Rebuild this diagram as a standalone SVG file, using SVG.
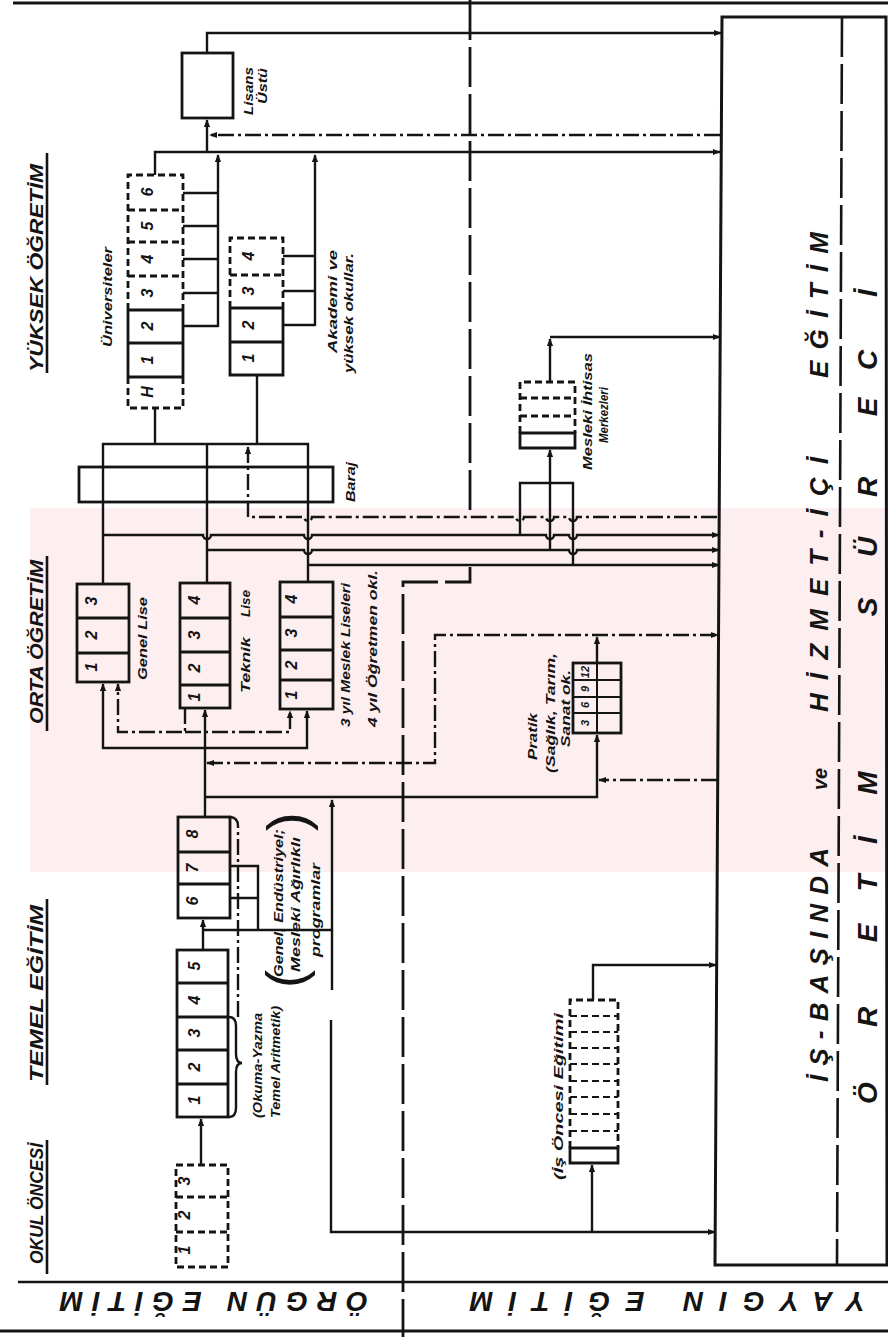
<svg xmlns="http://www.w3.org/2000/svg" width="888" height="1337" viewBox="0 0 888 1337">
<style>
.ln{fill:none;stroke:#141414;stroke-width:2.4}
.bx{fill:none;stroke:#141414;stroke-width:2.8}
.ds{stroke-dasharray:7 4}
.dd{stroke-dasharray:16 4 3 4}
.dv{fill:none;stroke:#141414;stroke-width:2.8;stroke-dasharray:40 7}
.t{font-family:"Liberation Sans",Arial,sans-serif;font-weight:bold;font-style:italic;fill:#141414}
.n{font-size:16px;text-anchor:middle}
.s{font-size:13px}
.h{font-size:18px}
.b{font-size:26px}
.p{font-family:"Liberation Sans",Arial,sans-serif;font-weight:normal;fill:#141414}
</style>
<defs>
<marker id="a" viewBox="0 0 10 10" refX="9" refY="5" markerWidth="8" markerHeight="8" markerUnits="userSpaceOnUse" orient="auto-start-reverse"><path d="M0,1 L10,5 L0,9 Z" fill="#141414"/></marker>
</defs>
<rect width="888" height="1337" fill="#ffffff"/>

<g id="watermark">
<rect x="30" y="508" width="858" height="364" fill="#fdeef0"/>
</g>

<g id="frame">
<path class="ln" style="stroke-width:3" d="M13,3 H888"/>
<path class="ln" style="stroke-width:2.6" d="M18,1282 H888"/>
<path class="ln" style="stroke-width:3" d="M0,1331 H888"/>
<path class="dv" d="M470,0 V513"/>
<path class="dv" d="M470,567 V582 H403 V1337"/>
</g>

<g id="section-labels">
<text class="t h" transform="translate(43,372) rotate(-90)" textLength="208" lengthAdjust="spacingAndGlyphs">YÜKSEK ÖĞRETİM</text>
<text class="t h" transform="translate(43,724) rotate(-90)" textLength="164" lengthAdjust="spacingAndGlyphs">ORTA ÖĞRETİM</text>
<text class="t h" transform="translate(43,1082) rotate(-90)" textLength="177" lengthAdjust="spacingAndGlyphs">TEMEL EĞİTİM</text>
<text class="t h" transform="translate(43,1264) rotate(-90)" textLength="121" lengthAdjust="spacingAndGlyphs">OKUL ÖNCESİ</text>
<path class="ln" style="stroke-width:2.6" d="M47,153 V373 M47,556 V731 M47,899 V1085 M47,1140 V1274"/>
<text class="t" style="font-size:28px" transform="translate(368,1292) rotate(180)" textLength="308" lengthAdjust="spacing">ÖRGÜN EĞİTİM</text>
<text class="t" style="font-size:28px" transform="translate(865,1292) rotate(180)" textLength="395" lengthAdjust="spacing">YAYGIN EĞİTİM</text>
</g>

<g id="lisans-ustu">
<rect class="bx" x="182" y="53" width="51" height="65"/>
<text class="t s" transform="translate(253,115) rotate(-90)" textLength="48" lengthAdjust="spacingAndGlyphs">Lisans</text>
<text class="t s" transform="translate(267,104) rotate(-90)" textLength="36" lengthAdjust="spacingAndGlyphs">Üstü</text>
</g>

<g id="universiteler">
<path class="bx ds" d="M128,310 V175 H183 V310"/>
<path class="bx" d="M128,310 V377 M183,310 V377"/>
<path class="bx ds" d="M128,377 V408 H183 V377"/>
<path class="bx ds" d="M128,210 H183 M128,242 H183 M128,276 H183"/>
<path class="bx" d="M128,310 H183 M128,343 H183 M128,377 H183"/>
<text class="t n" transform="translate(153,192) rotate(-90)">6</text>
<text class="t n" transform="translate(153,226) rotate(-90)">5</text>
<text class="t n" transform="translate(153,259) rotate(-90)">4</text>
<text class="t n" transform="translate(153,293) rotate(-90)">3</text>
<text class="t n" transform="translate(153,326) rotate(-90)">2</text>
<text class="t n" transform="translate(153,360) rotate(-90)">1</text>
<text class="t n" transform="translate(153,392) rotate(-90)">H</text>
<text class="t s" transform="translate(112,347) rotate(-90)" textLength="100" lengthAdjust="spacingAndGlyphs">Üniversiteler</text>
</g>

<g id="akademi">
<path class="bx ds" d="M230,308 V238 H283 V308 M230,275 H283"/>
<path class="bx" d="M230,308 V375 H283 V308 M230,308 H283 M230,342 H283"/>
<text class="t n" transform="translate(254,256) rotate(-90)">4</text>
<text class="t n" transform="translate(254,291) rotate(-90)">3</text>
<text class="t n" transform="translate(254,325) rotate(-90)">2</text>
<text class="t n" transform="translate(254,358) rotate(-90)">1</text>
<text class="t s" transform="translate(337,353) rotate(-90)" textLength="103" lengthAdjust="spacingAndGlyphs">Akademi ve</text>
<text class="t s" transform="translate(353,373) rotate(-90)" textLength="120" lengthAdjust="spacingAndGlyphs">yüksek okullar.</text>
</g>

<g id="baraj">
<rect class="bx" x="79" y="467" width="254" height="35"/>
<text class="t s" transform="translate(355,502) rotate(-90)" textLength="40" lengthAdjust="spacingAndGlyphs">Baraj</text>
</g>

<g id="genel-lise">
<rect class="bx" x="77" y="584" width="52" height="98"/>
<path class="bx" d="M77,618 H129 M77,653 H129"/>
<text class="t n" transform="translate(97,601) rotate(-90)">3</text>
<text class="t n" transform="translate(97,635) rotate(-90)">2</text>
<text class="t n" transform="translate(97,667) rotate(-90)">1</text>
<text class="t s" transform="translate(147,680) rotate(-90)" textLength="83" lengthAdjust="spacingAndGlyphs">Genel Lise</text>
</g>

<g id="teknik-lise">
<rect class="bx" x="180" y="583" width="50" height="125"/>
<path class="bx" d="M180,618 H230 M180,652 H230 M180,685 H230"/>
<text class="t n" transform="translate(200,600) rotate(-90)">4</text>
<text class="t n" transform="translate(200,635) rotate(-90)">3</text>
<text class="t n" transform="translate(200,668) rotate(-90)">2</text>
<text class="t n" transform="translate(200,697) rotate(-90)">1</text>
<text class="t s" transform="translate(250,693) rotate(-90)" textLength="56" lengthAdjust="spacingAndGlyphs">Teknik</text>
<text class="t s" transform="translate(250,617) rotate(-90)" textLength="27" lengthAdjust="spacingAndGlyphs">Lise</text>
</g>

<g id="meslek-lise">
<rect class="bx" x="280" y="582" width="53" height="127"/>
<path class="bx" d="M280,617 H333 M280,650 H333 M280,680 H333"/>
<text class="t n" transform="translate(297,599) rotate(-90)">4</text>
<text class="t n" transform="translate(297,633) rotate(-90)">3</text>
<text class="t n" transform="translate(297,665) rotate(-90)">2</text>
<text class="t n" transform="translate(297,695) rotate(-90)">1</text>
<text class="t s" transform="translate(350,727) rotate(-90)" textLength="144" lengthAdjust="spacingAndGlyphs">3 yıl Meslek Liseleri</text>
<text class="t s" transform="translate(377,727) rotate(-90)" textLength="157" lengthAdjust="spacingAndGlyphs">4 yıl Öğretmen okl.</text>
</g>

<g id="mesleki-ihtisas">
<path class="bx ds" d="M520,433 V382 H575 V433 M520,398 H575 M520,416 H575"/>
<path class="bx" d="M520,433 H575 V448 H520 Z"/>
<text class="t s" transform="translate(592,470) rotate(-90)" textLength="117" lengthAdjust="spacingAndGlyphs">Mesleki İhtisas</text>
<text class="t s" transform="translate(608,443) rotate(-90)" textLength="56" lengthAdjust="spacingAndGlyphs">Merkezleri</text>
</g>

<g id="pratik">
<rect class="bx" x="573" y="663" width="48" height="70"/>
<path class="bx" style="stroke-width:2" d="M597,663 V733 M573,680 H621 M573,697 H621 M573,713 H621"/>
<text class="t" style="font-size:11px;text-anchor:middle" transform="translate(589,672) rotate(-90)">12</text>
<text class="t" style="font-size:11px;text-anchor:middle" transform="translate(589,689) rotate(-90)">9</text>
<text class="t" style="font-size:11px;text-anchor:middle" transform="translate(589,705) rotate(-90)">6</text>
<text class="t" style="font-size:11px;text-anchor:middle" transform="translate(589,723) rotate(-90)">3</text>
<text class="t s" transform="translate(537,760) rotate(-90)" textLength="47" lengthAdjust="spacingAndGlyphs">Pratik</text>
<text class="t s" transform="translate(555,773) rotate(-90)" textLength="120" lengthAdjust="spacingAndGlyphs">(Sağlık, Tarım,</text>
<text class="t s" transform="translate(570,747) rotate(-90)" textLength="77" lengthAdjust="spacingAndGlyphs">Sanat ok.</text>
</g>

<g id="temel-6-8">
<rect class="bx" x="178" y="817" width="52" height="101"/>
<path class="bx" d="M178,852 H230 M178,884 H230"/>
<text class="t n" transform="translate(198,834) rotate(-90)">8</text>
<text class="t n" transform="translate(198,868) rotate(-90)">7</text>
<text class="t n" transform="translate(198,901) rotate(-90)">6</text>
<text class="t s" transform="translate(283,977) rotate(-90)" textLength="148" lengthAdjust="spacingAndGlyphs">Genel, Endüstriyel;</text>
<text class="t s" transform="translate(300,972) rotate(-90)" textLength="135" lengthAdjust="spacingAndGlyphs">Mesleki Ağırlıklı</text>
<text class="t s" transform="translate(320,957) rotate(-90)" textLength="94" lengthAdjust="spacingAndGlyphs">programlar</text>
<text class="p" style="font-size:56px" transform="translate(306,831) rotate(-90)">)</text>
<text class="p" style="font-size:54px" transform="translate(304,988) rotate(-90)">(</text>
</g>

<g id="temel-1-5">
<rect class="bx" x="177" y="950" width="51" height="167"/>
<path class="bx" d="M177,983 H228 M177,1017 H228 M177,1050 H228 M177,1084 H228"/>
<text class="t n" transform="translate(200,966) rotate(-90)">5</text>
<text class="t n" transform="translate(200,1000) rotate(-90)">4</text>
<text class="t n" transform="translate(200,1033) rotate(-90)">3</text>
<text class="t n" transform="translate(200,1067) rotate(-90)">2</text>
<text class="t n" transform="translate(200,1100) rotate(-90)">1</text>
<text class="t s" transform="translate(262,1118) rotate(-90)" textLength="105" lengthAdjust="spacingAndGlyphs">(Okuma-Yazma</text>
<text class="t s" transform="translate(280,1118) rotate(-90)" textLength="112" lengthAdjust="spacingAndGlyphs">Temel Aritmetik)</text>
</g>

<g id="okul-oncesi">
<rect class="bx ds" x="176" y="1165" width="52" height="102"/>
<path class="bx ds" d="M176,1197 H228 M176,1232 H228"/>
<text class="t n" transform="translate(190,1181) rotate(-90)">3</text>
<text class="t n" transform="translate(190,1215) rotate(-90)">2</text>
<text class="t n" transform="translate(190,1250) rotate(-90)">1</text>
</g>

<g id="is-oncesi">
<path class="bx ds" d="M570,1148 V1000 H618 V1148"/>
<path class="bx ds" style="stroke-width:2" d="M570,1016 H618 M570,1032 H618 M570,1048 H618 M570,1064 H618 M570,1081 H618 M570,1097 H618 M570,1114 H618 M570,1131 H618"/>
<path class="bx" d="M570,1148 H618 V1163 H570 Z"/>
<text class="t s" transform="translate(563,1180) rotate(-90)" textLength="167" lengthAdjust="spacingAndGlyphs">(İş Öncesi Eğitimi</text>
</g>

<g id="yaygin-egitim">
<path class="bx" style="stroke-width:3" d="M722,17 H886 L887,1265 H715 Z"/>
<path class="dv" style="stroke-width:2.6" d="M842,17 L837,1265"/>
<text class="t b" transform="translate(828,1082) rotate(-90)" textLength="234" lengthAdjust="spacing">İŞ-BAŞINDA</text>
<text class="t" style="font-size:20px" transform="translate(827,790) rotate(-90)" textLength="22" lengthAdjust="spacingAndGlyphs">ve</text>
<text class="t b" transform="translate(828,712) rotate(-90)" textLength="255" lengthAdjust="spacing">HİZMET-İÇİ</text>
<text class="t b" transform="translate(828,378) rotate(-90)" textLength="146" lengthAdjust="spacing">EĞİTİM</text>
<g class="t" style="font-size:28px;text-anchor:middle">
<text transform="translate(877,1093) rotate(-90)">Ö</text>
<text transform="translate(877,1017) rotate(-90)">R</text>
<text transform="translate(877,933) rotate(-90)">E</text>
<text transform="translate(877,883) rotate(-90)">T</text>
<text transform="translate(877,840) rotate(-90)">İ</text>
<text transform="translate(877,783) rotate(-90)">M</text>
<text transform="translate(877,607) rotate(-90)">S</text>
<text transform="translate(877,547) rotate(-90)">Ü</text>
<text transform="translate(877,487) rotate(-90)">R</text>
<text transform="translate(877,407) rotate(-90)">E</text>
<text transform="translate(877,360) rotate(-90)">C</text>
<text transform="translate(877,293) rotate(-90)">İ</text>
</g>
</g>

<g id="connectors">
<path class="ln" d="M207,53 V33 H721" marker-end="url(#a)"/>
<path class="ln" d="M155,175 V152 H720" marker-end="url(#a)"/>
<path class="ln" d="M207,152 V120" marker-end="url(#a)"/>
<path class="ln dd" d="M720,135 H210" marker-end="url(#a)"/>
<path class="ln" d="M183,193 H218 M183,226 H218 M183,259 H218 M183,293 H218 M183,326 H218"/>
<path class="ln" d="M218,327 V155" marker-end="url(#a)"/>
<path class="ln" d="M283,256 H315 M283,291 H315 M283,325 H315"/>
<path class="ln" d="M315,326 V155" marker-end="url(#a)"/>
<path class="ln" d="M103,584 V444 H308 V582 M155,408 V444 M257,375 V444 M207,444 V583"/>
<path class="ln dd" d="M248,447 V517 H304 a4,4 0 0 0 8,0 H516 a4,4 0 0 0 8,0 H546 a4,4 0 0 0 8,0 H569 a4,4 0 0 0 8,0 H719" marker-start="url(#a)"/>
<path class="ln" d="M103,535 H203 a4,4 0 0 0 8,0 H304 a4,4 0 0 0 8,0 H546 a4,4 0 0 0 8,0 H569 a4,4 0 0 0 8,0 H719" marker-end="url(#a)"/>
<path class="ln" d="M207,550 H304 a4,4 0 0 0 8,0 H569 a4,4 0 0 0 8,0 H719" marker-end="url(#a)"/>
<path class="ln" d="M308,565 H719" marker-end="url(#a)"/>
<path class="ln" d="M520,535 V483 H573 V565"/>
<path class="ln" d="M550,550 V450" marker-end="url(#a)"/>
<path class="ln" d="M550,382 V339" marker-end="url(#a)"/>
<path class="ln" d="M550,337 H720" marker-end="url(#a)"/>
<path class="ln" d="M205,817 V710" marker-end="url(#a)"/>
<path class="ln" d="M205,748 H103 V684" marker-end="url(#a)"/>
<path class="ln" d="M205,748 H307 V711" marker-end="url(#a)"/>
<path class="ln dd" d="M185,708 V732 H118 V684" marker-end="url(#a)"/>
<path class="ln dd" d="M185,732 H290 V711" marker-end="url(#a)"/>
<path class="ln dd" d="M207,763 H435 V635 H718" marker-start="url(#a)" marker-end="url(#a)"/>
<path class="ln" d="M597,663 V637" marker-end="url(#a)"/>
<path class="ln" d="M205,797 H597 V735" marker-end="url(#a)"/>
<path class="ln dd" d="M717,780 H599" marker-end="url(#a)"/>
<path class="ln" d="M203,930 H332 V800" marker-end="url(#a)"/>
<path class="ln" d="M332,930 V990"/>
<path class="ln" d="M331,1020 V1232 H715" marker-end="url(#a)"/>
<path class="ln" d="M592,1232 V1165" marker-end="url(#a)"/>
<path class="ln" d="M593,1000 V965 H716" marker-end="url(#a)"/>
<path class="ln" d="M230,866 H258 V930 M230,898 H258"/>
<path class="ln" d="M203,950 V920" marker-end="url(#a)"/>
<path class="ln" d="M201,1165 V1119" marker-end="url(#a)"/>
<path class="ln dd" d="M238,1017 V826 Q238,817 229,817"/>
<path class="ln" d="M229,1117 Q236,1117 236,1108 V1072 Q236,1063 242,1063 Q236,1063 236,1054 V1026 Q236,1017 229,1017"/>
</g>
</svg>
